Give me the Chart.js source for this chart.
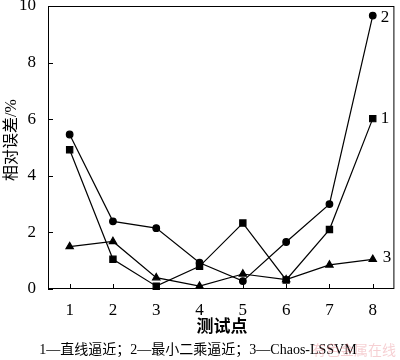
<!DOCTYPE html>
<html>
<head>
<meta charset="utf-8">
<script src="https://cdn.jsdelivr.net/npm/chart.js@4"></script>
<style>
  body { margin: 0; background: #fff; }
</style>
</head>
<body>
<canvas id="c" width="400" height="360"></canvas>
<script>
const points = ["1", "2", "3", "4", "5", "6", "7", "8"];
// 1 - 直线逼近
const lineFit = [4.92, 1.05, 0.1, 0.8, 2.33, 0.32, 2.1, 6.02];
// 2 - 最小二乘逼近
const leastSq = [5.46, 2.39, 2.15, 0.93, 0.28, 1.66, 3.0, 9.66];
// 3 - Chaos-LSSVM
const chaos = [1.5, 1.68, 0.4, 0.1, 0.53, 0.33, 0.85, 1.05];
const yTicks = [0, 2, 4, 6, 8, 10];

const serif = '"Liberation Serif", "DejaVu Serif", serif';
const cjk = '"Liberation Serif", "Noto Sans CJK SC", serif';

// inward ticks, frame and text
const decor = {
  id: "decor",
  afterDraw(chart) {
    const ctx = chart.ctx;
    const a = chart.chartArea;
    const xs = chart.scales.x, ys = chart.scales.y;
    ctx.save();
    ctx.strokeStyle = "#000";
    ctx.lineWidth = 1;
    ctx.strokeRect(a.left + 0.5, a.top + 0.5, a.right - a.left - 1, a.bottom - a.top - 1);
    ctx.beginPath();
    yTicks.forEach(v => {
      const y = Math.round(ys.getPixelForValue(v)) + 0.5;
      ctx.moveTo(a.left, y);
      ctx.lineTo(a.left + 5, y);
    });
    points.forEach((p, i) => {
      const x = Math.round(xs.getPixelForValue(i)) + 0.5;
      ctx.moveTo(x, a.bottom);
      ctx.lineTo(x, a.bottom - 5);
    });
    ctx.stroke();

    // series numbers at the ends
    ctx.fillStyle = "#000";
    ctx.font = "17px " + serif;
    ctx.textBaseline = "middle";
    ctx.textAlign = "left";
    const last = points.length - 1;
    const xEnd = xs.getPixelForValue(last) + 8;
    ctx.fillText("2", xEnd, ys.getPixelForValue(leastSq[last]) + 2);
    ctx.fillText("1", xEnd, ys.getPixelForValue(lineFit[last]));
    ctx.fillText("3", xEnd + 2, ys.getPixelForValue(chaos[last]) - 2);

    // axis titles
    ctx.textAlign = "center";
    ctx.font = "bold 17px " + cjk;
    ctx.fillText("测试点", 222, 328);
    ctx.save();
    ctx.translate(12, 140);
    ctx.rotate(-Math.PI / 2);
    ctx.font = "16px " + cjk;
    ctx.fillText("相对误差/%", 0, 0);
    ctx.restore();

    // caption
    ctx.font = "14px " + cjk;
    ctx.fillText("1—直线逼近；2—最小二乘逼近；3—Chaos-LSSVM", 198, 350);
    ctx.fillStyle = "rgba(230,120,130,0.35)";
    ctx.font = "14px " + cjk;
    ctx.textAlign = "right";
    ctx.fillText("有色金属在线", 396, 351);
    ctx.restore();
  }
};

const base = {
  borderColor: "#000",
  backgroundColor: "#000",
  borderWidth: 1.2,
  tension: 0,
  fill: false,
  clip: false
};

new Chart(document.getElementById("c"), {
  type: "line",
  data: {
    labels: points,
    datasets: [
      Object.assign({}, base, { label: "1", data: lineFit, pointStyle: "rect", pointRadius: 4.4 }),
      Object.assign({}, base, { label: "2", data: leastSq, pointStyle: "circle", pointRadius: 3.3 }),
      Object.assign({}, base, { label: "3", data: chaos, pointStyle: "triangle", pointRadius: 4.2 })
    ]
  },
  options: {
    responsive: false,
    animation: false,
    devicePixelRatio: 1,
    layout: { padding: { top: 6, right: 1, left: 0, bottom: 0 } },
    plugins: { legend: { display: false }, tooltip: { enabled: false } },
    scales: {
      x: {
        offset: true,
        grid: { display: false },
        border: { display: false },
        ticks: { color: "#000", font: { family: serif, size: 17 }, padding: 3, maxRotation: 0 },
        afterFit(s) { s.height = 71; s.paddingLeft = 0; s.paddingRight = 0; }
      },
      y: {
        min: 0,
        max: 10,
        grid: { display: false },
        border: { display: false },
        ticks: { stepSize: 2, color: "#000", font: { family: serif, size: 17 }, padding: 4 },
        afterBuildTicks(s) { s.ticks = yTicks.map(v => ({ value: v })); },
        afterFit(s) { s.width = 48; s.paddingTop = 0; s.paddingBottom = 0; }
      }
    }
  },
  plugins: [decor]
});
</script>
</body>
</html>
